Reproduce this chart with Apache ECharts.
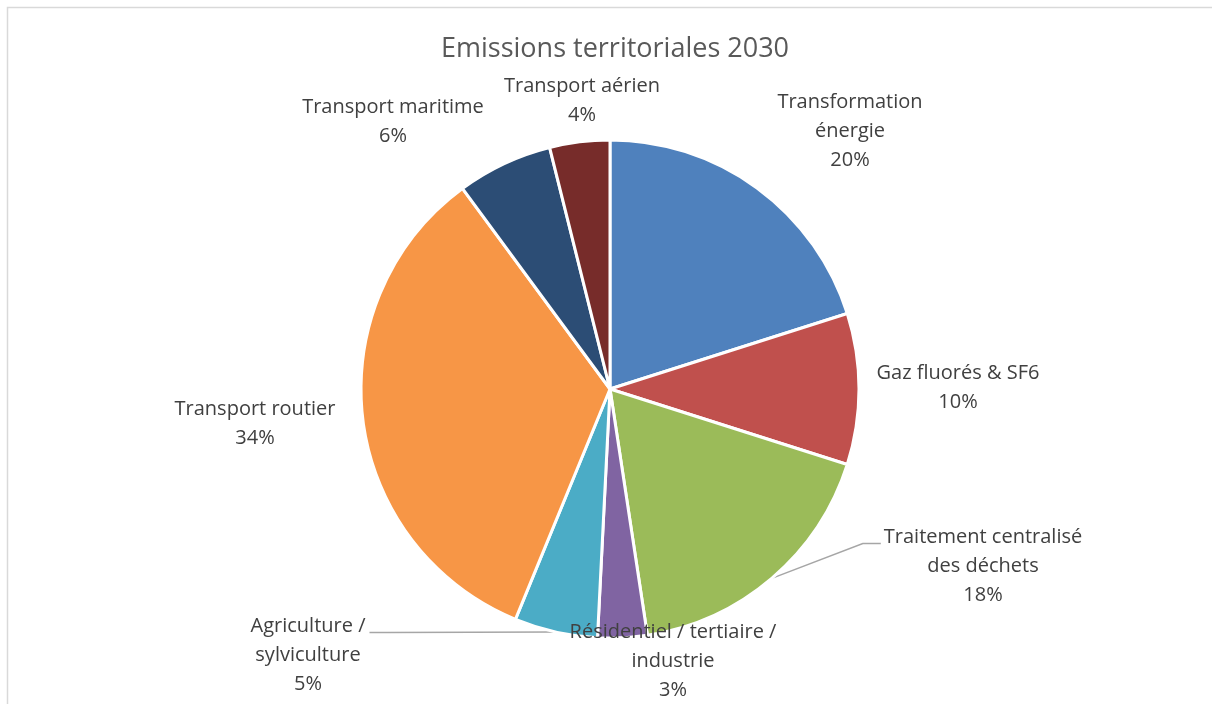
<!DOCTYPE html>
<html>
<head>
<meta charset="utf-8">
<script src="https://cdn.jsdelivr.net/npm/echarts@6/dist/echarts.min.js"></script>
<style>
  html, body { margin: 0; padding: 0; background: #fff; }
  #chart { width: 1212px; height: 704px; }
</style>
</head>
<body>
<div id="chart"></div>
<script>
// secteurs, dans le sens horaire depuis midi
const categories = [
  "Transformation\nénergie",
  "Gaz fluorés & SF6",
  "Traitement centralisé\ndes déchets",
  "Résidentiel / tertiaire /\nindustrie",
  "Agriculture /\nsylviculture",
  "Transport routier",
  "Transport maritime",
  "Transport aérien"
];
const shares = [20.1, 9.8, 17.7, 3.2, 5.4, 33.7, 6.2, 3.9];
const colors = ["#4F81BD", "#C0504D", "#9BBB59", "#8064A2", "#4BACC6", "#F79646", "#2C4D75", "#772C2A"];

// où poser chaque étiquette (centre du bloc de texte)
const labelSpots = [
  [850, 131], [958, 388], [983, 566], [673, 661],
  [308, 655], [255, 424], [393, 122], [582, 101]
];
const withLine = [false, false, true, false, true, false, false, false];

const chart = echarts.init(document.getElementById("chart"));

// trait de rappel : du milieu de l'arc jusqu'au bord du texte, avec un coude
function leaderPoints(params, spot) {
  const p0 = params.labelLinePoints[0];
  const w = params.labelRect.width;
  const h = params.labelRect.height;
  const yLine = spot[1] - h / 2 + 21;
  if (spot[0] > p0[0]) {
    const left = spot[0] - w / 2 - 3;
    return [p0, [left - 18, yLine], [left, yLine]];
  }
  const right = spot[0] + w / 2 + 4;
  return [p0, [right + 18, yLine], [right, yLine]];
}

const option = {
  animation: false,
  title: {
    text: "Emissions territoriales 2030",
    left: 610,
    top: 31,
    textAlign: "center",
    textStyle: {
      fontFamily: "Open Sans",
      fontSize: 27,
      fontWeight: "normal",
      color: "#595959"
    }
  },
  graphic: [{
    type: "rect",
    shape: { x: 7.5, y: 7.5, width: 1300, height: 800 },
    style: { fill: null, stroke: "#d9d9d9", lineWidth: 1.5 },
    silent: true
  }],
  series: [{
    type: "pie",
    center: [610, 389],
    radius: 249,
    startAngle: 90,
    clockwise: true,
    avoidLabelOverlap: false,
    itemStyle: { borderColor: "#fff", borderWidth: 3 },
    label: {
      show: true,
      position: "outside",
      fontFamily: "Open Sans",
      fontSize: 20,
      lineHeight: 29,
      color: "#404040",
      align: "center",
      formatter: (p) => p.name + "\n" + Math.round(p.value) + "%"
    },
    labelLine: {
      show: true,
      length: 20,
      length2: 20,
      lineStyle: { color: "#a6a6a6", width: 1.5 }
    },
    labelLayout: (params) => {
      const spot = labelSpots[params.dataIndex];
      const out = {
        x: spot[0],
        y: spot[1],
        align: "center",
        verticalAlign: "middle"
      };
      if (withLine[params.dataIndex] && params.labelLinePoints) {
        out.labelLinePoints = leaderPoints(params, spot);
      }
      return out;
    },
    data: categories.map((name, i) => ({
      name: name,
      value: shares[i],
      itemStyle: { color: colors[i] },
      labelLine: { show: withLine[i] }
    }))
  }]
};

chart.setOption(option);
</script>
</body>
</html>
